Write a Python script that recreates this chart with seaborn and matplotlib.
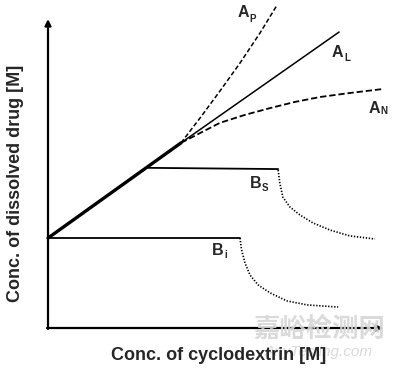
"""Phase-solubility diagram (Higuchi-Connors types A_P, A_L, A_N, B_S, B_i)."""
import matplotlib

matplotlib.use("Agg")
import matplotlib.pyplot as plt
import seaborn as sns

# values in arbitrary units, origin where the two axes cross
initial_x = [0.0, 3.97]          # common linear rise (thick)
initial_y = [2.92, 6.01]

ap_x = [3.97, 4.54, 5.13, 5.73, 6.33, 6.84]
ap_y = [6.01, 6.82, 7.69, 8.6, 9.58, 10.49]

al_x = [3.97, 8.69]
al_y = [6.01, 9.61]

an_x = [3.97, 4.54, 5.13, 5.88, 6.63, 7.37, 8.12, 9.01, 10.0]
an_y = [6.01, 6.33, 6.66, 6.92, 7.14, 7.34, 7.5, 7.63, 7.76]

bs_plateau_x = [2.99, 6.87]
bs_plateau_y = [5.2, 5.16]
bs_drop_x = [6.87, 6.92, 7.01, 7.22, 7.52, 7.91, 8.42, 9.01, 9.76]
bs_drop_y = [5.13, 4.71, 4.25, 3.93, 3.67, 3.41, 3.18, 2.99, 2.89]

bi_plateau_x = [0.0, 5.73]
bi_plateau_y = [2.92, 2.92]
bi_drop_x = [5.73, 5.78, 5.88, 6.03, 6.27, 6.63, 7.13, 7.73, 8.66]
bi_drop_y = [2.92, 2.53, 2.11, 1.72, 1.40, 1.14, 0.88, 0.75, 0.68]

labels = ["A", "A", "A", "B", "B"]
subscripts = ["P", "L", "N", "S", "i"]
label_pos = [(5.82, 10.23), (8.63, 8.96), (9.73, 7.14), (6.19, 4.69), (5.07, 2.52)]
sub_pos = [(6.12, 10.04), (8.93, 8.78), (10.04, 7.03), (6.48, 4.53), (5.30, 2.36)]

sns.set_style("white")
plt.rcParams["font.family"] = ["Liberation Sans", "DejaVu Sans"]

fig = plt.figure(figsize=(4.0, 3.7), dpi=100)
ax = fig.add_axes([0, 0, 1, 1])
ax.set_xlim(-48 / 33.5, 352 / 33.5)
ax.set_ylim(-42 / 30.8, 328 / 30.8)
ax.axis("off")

# watermark
ax.text(8.09, -0.03, "嘉峪检测网", fontsize=19, color="#d6d6d6", ha="center", va="center",
        family=["Noto Sans CJK SC", "DejaVu Sans"], fontweight="bold", zorder=5, alpha=0.9)
ax.text(8.09, -0.78, "AnyTesting.com", fontsize=11, color="#dadada", ha="center", va="center",
        style="italic", zorder=0)

# axes with arrow heads
arrow = dict(arrowstyle="-|>", lw=1.6, color="black", mutation_scale=9, shrinkA=0, shrinkB=0)
ax.annotate("", xy=(0, 10.03), xytext=(0, -0.03), arrowprops=arrow, zorder=3)
ax.annotate("", xy=(10.0, 0), xytext=(-0.03, 0), arrowprops=arrow, zorder=3)

line = dict(ax=ax, color="black", sort=False, estimator=None, legend=False)
sns.lineplot(x=initial_x, y=initial_y, lw=2.4, **line)
sns.lineplot(x=al_x, y=al_y, lw=1.1, **line)
sns.lineplot(x=ap_x, y=ap_y, lw=1.1, linestyle=(0, (3, 1.6)), **line)
sns.lineplot(x=an_x, y=an_y, lw=1.3, linestyle=(0, (3.5, 1.6)), **line)
sns.lineplot(x=bs_plateau_x, y=bs_plateau_y, lw=1.3, **line)
sns.lineplot(x=bs_drop_x, y=bs_drop_y, lw=1.2, linestyle=(0, (0.8, 1.0)), **line)
sns.lineplot(x=bi_plateau_x, y=bi_plateau_y, lw=1.3, **line)
sns.lineplot(x=bi_drop_x, y=bi_drop_y, lw=1.2, linestyle=(0, (0.8, 1.0)), **line)

for lab, sub, (lx, ly), (sx, sy) in zip(labels, subscripts, label_pos, sub_pos):
    ax.text(lx, ly, lab, fontsize=11.5, fontweight="bold", ha="center", va="center")
    ax.text(sx, sy, sub, fontsize=7, fontweight="bold", ha="center", va="center")

ax.text(5.10, -0.877, "Conc. of cyclodextrin [M]", fontsize=13, fontweight="bold",
        ha="center", va="center", zorder=6)
ax.text(-0.985, 4.71, "Conc. of dissolved drug [M]", fontsize=13, fontweight="bold",
        ha="center", va="center", rotation=90)

fig.savefig("out.png", dpi=100)
plt.close(fig)
